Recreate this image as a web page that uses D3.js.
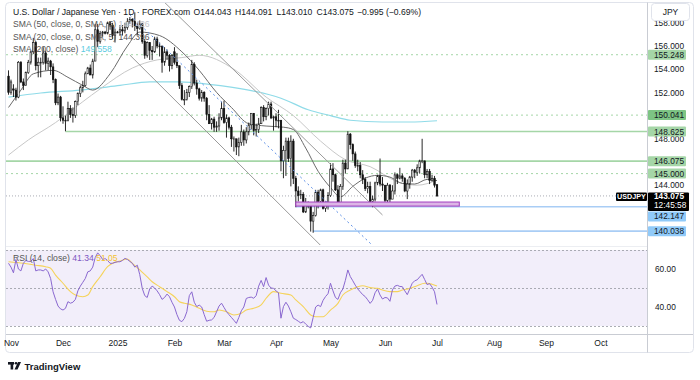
<!DOCTYPE html>
<html><head><meta charset="utf-8">
<script src="https://cdn.jsdelivr.net/npm/d3@7"></script>
<style>
html,body{margin:0;padding:0;background:#fff;}
svg{display:block;font-family:"Liberation Sans",Arial,sans-serif;}
</style></head><body>
<svg id="c" width="700" height="380"></svg>
<script>
// ---------------- DATA ----------------
const firstBarDate = "2024-10-31"; // consecutive weekday daily bars
const ohlc = [
[153.4,153.9,151.8,152.0],[152.0,153.1,151.8,152.9],[152.3,152.7,151.6,152.2],[152.2,152.4,151.3,151.6],[151.6,154.7,151.5,154.6],
[154.6,154.7,152.8,152.9],[152.9,153.2,152.2,152.6],[152.6,153.8,152.6,153.7],[153.7,154.8,153.6,154.6],[154.6,155.6,154.4,155.5],
[155.5,156.7,155.3,156.3],[156.3,156.4,153.9,154.3],[154.3,155.0,153.3,154.6],[154.6,155.0,153.3,154.6],[154.6,155.9,154.4,155.4],
[155.4,155.6,153.9,154.5],[154.5,155.0,153.9,154.7],[154.7,154.8,153.5,154.2],[154.2,154.5,152.8,153.1],[153.1,153.2,150.9,151.1],
[151.1,151.9,150.9,151.6],[151.6,151.7,149.5,149.8],
[149.8,150.8,149.3,149.6],[149.6,150.0,148.65,149.6],[149.6,151.2,149.5,150.6],[150.6,150.9,149.8,150.1],[150.1,150.7,149.4,150.0],
[150.0,151.3,149.8,151.2],[151.2,152.0,150.9,151.9],[151.9,152.6,151.6,152.4],[152.4,153.0,152.0,152.6],[152.6,153.8,152.5,153.6],
[153.6,154.2,153.6,154.1],[154.1,154.4,153.5,153.5],[153.5,154.9,153.2,154.7],[154.7,157.9,154.7,157.4],[157.4,157.9,155.9,156.4],
[156.4,157.3,156.2,157.1],[157.1,157.3,156.8,157.2],[157.2,157.3,157.0,157.1],[157.1,158.1,157.0,158.0],[158.0,158.1,157.4,157.8],
[157.8,158.0,156.6,156.9],[156.9,157.5,156.3,157.2],
[157.2,157.3,157.1,157.2],[157.2,157.8,156.9,157.4],[157.4,157.8,156.9,157.3],
[157.3,158.0,157.1,157.6],[157.6,158.4,157.4,158.1],[158.1,158.5,157.9,158.3],[158.3,158.4,157.6,158.1],[158.1,158.9,157.3,157.7],
[157.7,158.0,156.9,157.5],[157.5,158.2,157.4,157.9],[157.9,158.0,156.2,156.4],[156.4,156.6,154.9,155.2],[155.2,156.4,155.0,156.3],
[156.3,156.3,154.8,155.6],[155.6,156.0,154.8,155.5],[155.5,156.8,155.4,156.6],[156.6,156.8,155.8,156.0],[156.0,156.3,155.1,156.0],
[156.0,156.0,153.7,154.6],[154.6,155.9,154.3,155.5],[155.5,155.7,154.8,155.2],[155.2,155.3,153.8,154.3],[154.3,155.3,154.0,155.2],
[155.5,155.9,154.4,154.6],[154.6,155.4,154.1,154.3],[154.3,154.3,152.3,152.6],[152.6,152.8,151.3,151.4],[151.4,152.2,150.9,151.4],
[151.4,152.3,151.3,152.0],[152.0,152.6,151.6,152.5],[152.5,154.8,152.3,154.4],[154.4,154.6,152.6,152.8],[152.8,153.1,151.8,152.3],
[152.3,152.4,151.3,151.5],[151.5,152.2,151.2,152.0],[152.0,152.1,151.2,151.5],[151.5,151.6,149.6,150.1],[150.1,150.9,149.3,149.3],
[149.3,149.8,148.8,149.7],[149.7,149.9,148.6,149.0],[149.0,149.5,148.6,149.1],[149.1,150.2,148.7,149.8],[149.8,151.2,149.6,150.6],
[150.6,151.3,149.3,149.4],[149.4,150.1,148.1,149.8],[149.8,149.9,148.8,149.0],[149.0,149.2,147.3,148.0],[148.0,148.2,146.9,148.0],
[148.0,148.0,146.6,147.3],[147.3,148.1,146.5,147.7],[147.7,149.2,147.4,148.6],[148.6,148.8,147.4,147.9],[147.9,149.0,147.6,148.6],
[148.6,149.4,148.3,149.2],[149.2,150.2,148.8,150.2],[150.2,150.2,148.3,148.7],[148.7,149.3,148.2,148.8],[148.8,149.8,148.5,149.3],
[149.3,150.8,149.3,150.7],[150.7,150.9,149.5,149.9],[149.9,150.7,149.6,150.6],[150.6,151.2,150.0,151.0],[151.0,151.2,149.7,149.8],
[149.8,150.0,148.7,149.9],[149.9,150.2,149.0,149.6],[149.6,150.5,148.9,149.6],[149.6,149.6,145.2,146.1],[146.1,147.4,144.6,147.0],
[147.0,148.1,144.8,147.8],[147.8,148.1,146.0,146.3],[146.3,148.3,143.9,147.8],[147.8,148.0,144.1,144.6],[144.6,144.8,142.1,143.5],
[143.5,143.9,142.6,143.1],[143.1,143.6,142.8,143.2],[143.2,143.4,141.6,141.7],[141.7,142.9,141.6,142.4],[142.4,142.6,142.0,142.2],
[142.2,142.2,140.0,140.9],[140.9,141.7,139.9,141.4],[141.4,143.6,141.3,143.4],[143.4,143.6,142.0,142.6],[142.6,143.7,142.4,143.6],
[143.6,143.7,141.9,142.0],[142.0,142.6,141.7,142.3],[142.3,143.4,141.9,143.1],[143.1,145.9,143.0,145.4],[145.4,145.9,144.3,144.9],
[144.9,145.0,143.5,143.6],[143.6,144.0,142.4,142.5],[142.5,144.1,142.4,143.9],[143.9,146.2,143.6,145.9],[145.9,146.2,145.0,145.4],
[145.4,148.65,145.4,148.4],[148.4,148.5,147.1,147.5],[147.5,147.6,146.1,146.7],[146.7,146.9,145.5,145.7],[145.7,146.2,145.2,145.7],
[145.7,146.0,144.6,144.9],[144.9,145.3,144.1,144.5],[144.5,144.7,143.5,143.7],[143.7,144.3,143.3,143.9],[143.9,144.3,142.4,142.6],
[142.6,143.1,142.1,142.8],[142.8,144.3,142.6,144.2],[144.2,144.9,144.0,144.8],[144.8,146.3,143.9,144.1],[144.1,144.7,143.5,144.0],
[144.0,144.0,142.5,142.7],[142.7,144.2,142.4,144.0],[144.0,144.1,142.5,142.8],[142.8,144.0,142.8,143.5],[143.5,145.1,143.2,144.9],
[144.9,145.0,144.1,144.6],[144.6,145.5,144.5,144.8],[144.8,145.0,144.3,144.6],[144.6,144.7,143.4,143.5],[143.5,144.5,142.8,144.1],
[144.1,144.8,143.7,144.7],[144.7,145.4,144.3,145.3],[145.3,145.4,144.6,145.1],[145.1,145.8,144.8,145.5],[145.5,146.2,145.0,146.1],
[146.1,148.0,145.9,146.1],[146.1,146.1,144.6,144.9],[144.9,145.4,144.6,145.2],[145.2,145.4,144.1,144.4],[144.4,144.9,144.3,144.6],
[144.6,144.8,143.8,144.0],[144.043,144.091,143.010,143.075]
];
const rsiValues = [
63,61,58,65,60,59,63,64.5,64,64,65.5,59,59.5,59.5,59,60,58.5,55,48,44,40.5,39,
38.4,39.3,42.8,42,42.5,44,48.5,51,53,55,58.5,59,61,66,68.5,67,65,65.5,64.5,63,63,63.5,
63.8,63.8,64.5,65.6,65,64,63,61,62,57,49.8,46,45,49.5,51,50,48.5,46.5,44,45,46.8,45.4,42.5,
40,36,33,32.3,34,37.5,46,48,42.5,40.2,41,40,36,32.5,33,33.2,34.5,37.5,40.5,42,
39.8,37.6,36,34.5,33,31.4,34.5,38,40,44.5,45,45.2,44.6,46,51,54,50.7,55.5,51.5,50,49.8,
48.5,47.5,34.1,40.2,42.5,40.5,37.5,34.1,33.4,32.5,31.6,32.3,31,29.8,29,34.5,40,41,40.2,43.5,45.5,47,
52.5,48.5,45,44,47.5,49.5,54,59.5,56,53.8,51.5,49.5,48,46.5,45.5,43.8,41.9,43.5,47.5,49.5,46.3,44.2,
45,44.8,43,49,51,51.4,50.8,50.7,48.5,46.5,49.5,52.5,53.8,54.3,55.8,57.2,54.5,51.8,52.3,50.5,48,41.34
];
const rsiMA = [["2024-10-31",63.8],["2024-11-08",63],["2024-11-15",62],["2024-11-21",61.2],["2024-11-25",60.4],["2024-11-27",56.8],
["2024-12-02",52.5],["2024-12-05",48.1],["2024-12-09",46.3],["2024-12-12",45.4],["2024-12-16",46.3],["2024-12-18",50.7],["2024-12-23",55.9],
["2024-12-26",61.2],["2024-12-30",63],["2025-01-02",64.2],["2025-01-07",65.3],["2025-01-09",63],["2025-01-14",59.5],["2025-01-17",55.9],
["2025-01-21",53.3],["2025-01-24",50.7],["2025-01-29",48.1],["2025-02-03",45.4],["2025-02-05",42.8],["2025-02-07",42],["2025-02-12",41.1],
["2025-02-17",39.3],["2025-02-20",37.8],["2025-02-25",37.5],["2025-02-27",38.4],["2025-03-04",37.5],["2025-03-07",35.8],["2025-03-12",36.7],
["2025-03-14",38.4],["2025-03-19",39.3],["2025-03-24",41.1],["2025-03-26",44.6],["2025-03-31",48.1],["2025-04-03",47.2],["2025-04-09",46.3],
["2025-04-11",43.7],["2025-04-16",40.2],["2025-04-21",35.8],["2025-04-23",34.9],["2025-04-28",34.9],["2025-05-01",38.4],["2025-05-06",41.9],
["2025-05-08",46.3],["2025-05-13",48.9],["2025-05-16",50.7],["2025-05-20",51.2],["2025-05-23",50.2],["2025-05-28",49.8],["2025-05-30",48.9],
["2025-06-04",48.1],["2025-06-09",48.1],["2025-06-11",48.9],["2025-06-16",49.8],["2025-06-19",51.2],["2025-06-24",52.5],["2025-06-25",52.5],
["2025-06-27",52],["2025-07-01",51.05]];
const sma20 = [["2024-10-31",150.7],["2024-11-07",152.2],["2024-11-14",153.6],["2024-11-26",153.9],["2024-12-04",153.3],["2024-12-12",152.6],
["2024-12-18",152.2],["2024-12-27",153.6],["2025-01-07",156.0],["2025-01-14",157.2],["2025-01-24",156.9],["2025-02-06",155.5],["2025-02-17",153.9],
["2025-02-26",152.0],["2025-03-06",150.7],["2025-03-17",149.3],["2025-03-26",149.1],["2025-04-04",149.0],["2025-04-10",148.8],["2025-04-17",147.2],
["2025-04-24",145.2],["2025-05-01",143.8],["2025-05-07",143.0],["2025-05-14",143.9],["2025-05-21",144.6],["2025-05-28",144.85],["2025-06-04",144.7],
["2025-06-11",144.15],["2025-06-18",144.1],["2025-06-25",144.5],["2025-07-01",144.396]];
const sma50 = [["2024-10-31",146.6],["2024-11-12",147.9],["2024-11-27",149.4],["2024-12-12",151.2],["2024-12-23",152.3],["2025-01-09",154.1],
["2025-01-23",154.8],["2025-02-06",155.0],["2025-02-17",155.2],["2025-03-07",154.0],["2025-03-26",151.6],["2025-04-10",150.0],["2025-04-25",147.8],
["2025-05-09",146.2],["2025-05-23",145.6],["2025-06-09",144.3],["2025-06-19",144.0],["2025-07-01",144.426]];
const sma200 = [["2024-10-31",151.6],["2024-11-19",151.95],["2024-12-11",152.2],["2025-01-02",152.6],["2025-01-20",152.9],["2025-02-05",152.9],
["2025-02-21",152.7],["2025-03-17",152.2],["2025-04-03",151.5],["2025-04-18",150.5],["2025-05-01",150.0],["2025-05-13",149.6],["2025-05-30",149.45],
["2025-06-16",149.45],["2025-07-01",149.558]];
const priceTicks = [144,148,152,154,156,158];
const rsiTicks = [40,60];
const rsiBands = [70,50,30];
const monthDates = ["2024-11-01","2024-12-02","2025-01-01","2025-02-03","2025-03-03","2025-04-01","2025-05-01","2025-06-02","2025-07-01","2025-08-01","2025-09-01","2025-10-01"];
const monthLabels = ["Nov","Dec","2025","Feb","Mar","Apr","May","Jun","Jul","Aug","Sep","Oct"];
const dottedGreenLevels = [155.248,150.041,145.000];
const solidGreenLevels = [[148.625,"2024-12-03"],[146.075,"2024-10-28"]];
const blueLevels = [[142.147,"2025-04-11"],[140.038,"2025-04-22"]];
const zone = {top:142.55,bottom:142.2,from:"2025-04-11",to:"2025-07-14"};
const channelUpper = [["2025-01-27",159.97],["2025-05-30",141.43]];
const channelLower = [["2025-01-08",155.22],["2025-04-28",138.6]];
const channelMid = [["2025-01-08",158.67],["2025-05-27",138.6]];
const lastPrice = 143.075, countdown = "12:45:58";

// ---------------- HELPERS ----------------
const REF = Date.UTC(2024,11,2); // Monday
function bi(s){const [Y,M,D]=s.split("-").map(Number);const days=Math.round((Date.UTC(Y,M-1,D)-REF)/864e5);const w=Math.floor(days/7);const r=days-w*7;return w*5+Math.min(r,5);}
const svg = d3.select("#c");
const PL=6, PR=647, PT=3, PB=245;
const x = d3.scaleLinear().domain([0,151]).range([63,437]);
const y = d3.scaleLinear().domain([144,156]).range([185.2,46]);
const yr = d3.scaleLinear().domain([30,70]).range([326,250]);
const step = x(1)-x(0);
const first = bi(firstBarDate);
const bars = ohlc.map((r,i)=>({i:first+i,o:r[0],h:r[1],l:r[2],c:r[3]}));

const defs = svg.append("defs");
defs.append("clipPath").attr("id","pc").append("rect").attr("x",PL).attr("y",PT).attr("width",PR-PL).attr("height",PB-PT);
defs.append("clipPath").attr("id","rc").append("rect").attr("x",PL).attr("y",247).attr("width",PR-PL).attr("height",86);

// frame
svg.append("rect").attr("x",5.5).attr("y",2.5).attr("width",688).attr("height",350).attr("rx",4)
  .attr("fill","#fff").attr("stroke","#e0e3eb");

// ---------------- RSI PANE ----------------
const rp = svg.append("g").attr("clip-path","url(#rc)");
rp.append("rect").attr("x",PL).attr("y",yr(70)).attr("width",PR-PL).attr("height",yr(30)-yr(70)).attr("fill","#f2eefa");
rp.selectAll("line.band").data(rsiBands).join("line").attr("x1",PL).attr("x2",PR)
  .attr("y1",d=>yr(d)+0.5).attr("y2",d=>yr(d)+0.5).attr("stroke","#9598a1").attr("stroke-dasharray","2,2").attr("stroke-width",0.8);
rp.append("path").datum(rsiMA).attr("fill","none").attr("stroke","#f5d35a").attr("stroke-width",1.1)
  .attr("d",d3.line().x(d=>x(bi(d[0]))).y(d=>yr(d[1])).curve(d3.curveMonotoneX));
rp.append("path").datum(rsiValues).attr("fill","none").attr("stroke","#8a68d0").attr("stroke-width",1)
  .attr("d",d3.line().x((d,i)=>x(first+i)).y(d=>yr(d)));

// ---------------- PRICE PANE ----------------
const pp = svg.append("g").attr("clip-path","url(#pc)");
pp.selectAll("line.dg").data(dottedGreenLevels).join("line").attr("x1",PL).attr("x2",PR)
  .attr("y1",d=>y(d)).attr("y2",d=>y(d)).attr("stroke","#a5d6a7").attr("stroke-width",1).attr("stroke-dasharray","2,3");
pp.selectAll("line.sg").data(solidGreenLevels).join("line").attr("x1",d=>x(bi(d[1]))).attr("x2",PR)
  .attr("y1",d=>y(d[0])).attr("y2",d=>y(d[0])).attr("stroke","#a5d6a7").attr("stroke-width",1.6);
pp.selectAll("line.bl").data(blueLevels).join("line").attr("x1",d=>x(bi(d[1]))).attr("x2",PR)
  .attr("y1",d=>y(d[0])).attr("y2",d=>y(d[0])).attr("stroke","#a9cdf5").attr("stroke-width",1.6);
// current price line
pp.append("line").attr("x1",PL).attr("x2",PR).attr("y1",y(lastPrice)).attr("y2",y(lastPrice))
  .attr("stroke","#9598a1").attr("stroke-width",0.8).attr("stroke-dasharray","1,2");

const ln = d3.line().x(d=>x(bi(d[0]))).y(d=>y(d[1])).curve(d3.curveMonotoneX);
pp.append("path").datum(sma200).attr("fill","none").attr("stroke","#8fdbe8").attr("stroke-width",1.2).attr("d",ln);
pp.append("path").datum(sma50).attr("fill","none").attr("stroke","#c8c8c8").attr("stroke-width",1).attr("d",ln);
pp.append("path").datum(sma20).attr("fill","none").attr("stroke","#6b6b6b").attr("stroke-width",1).attr("d",ln);

// candles
const cg = pp.append("g");
cg.selectAll("line.w").data(bars).join("line").attr("x1",d=>x(d.i)).attr("x2",d=>x(d.i))
  .attr("y1",d=>y(d.h)).attr("y2",d=>y(d.l)).attr("stroke","#111").attr("stroke-width",0.9);
const bw = step*0.62;
cg.selectAll("rect.b").data(bars).join("rect")
  .attr("x",d=>x(d.i)-bw/2).attr("width",bw)
  .attr("y",d=>y(Math.max(d.o,d.c))).attr("height",d=>Math.max(0.8,Math.abs(y(d.o)-y(d.c))))
  .attr("fill",d=>d.c>=d.o?"#fff":"#111").attr("stroke","#111").attr("stroke-width",0.6);

// drawings
const tl = d3.line().x(d=>x(bi(d[0]))).y(d=>y(d[1]));
pp.append("path").datum(channelUpper).attr("fill","none").attr("stroke","#9a9a9a").attr("stroke-width",1).attr("d",tl);
pp.append("path").datum(channelLower).attr("fill","none").attr("stroke","#9a9a9a").attr("stroke-width",1).attr("d",tl);
pp.append("path").datum(channelMid).attr("fill","none").attr("stroke","#5b8ee6").attr("stroke-width",1).attr("stroke-dasharray","2,3").attr("d",tl);
pp.append("rect").attr("x",x(bi(zone.from))).attr("width",x(bi(zone.to))-x(bi(zone.from)))
  .attr("y",y(zone.top)).attr("height",y(zone.bottom)-y(zone.top))
  .attr("fill","#dcb6e6").attr("stroke","#a43fc0").attr("stroke-width",1);

// ---------------- AXES ----------------
svg.append("line").attr("x1",PR+0.5).attr("x2",PR+0.5).attr("y1",2.5).attr("y2",352.5).attr("stroke","#c9ccd3");
svg.append("line").attr("x1",PL).attr("x2",693).attr("y1",334.5).attr("y2",334.5).attr("stroke","#c9ccd3");
svg.append("line").attr("x1",PL).attr("x2",PR).attr("y1",246.5).attr("y2",246.5).attr("stroke","#eceef2");

const xa = svg.append("g").attr("transform","translate(0,338)")
  .call(d3.axisBottom(x).tickValues(monthDates.map(bi)).tickFormat((d,i)=>monthLabels[i]).tickSize(0).tickPadding(2));
xa.select(".domain").remove();
xa.selectAll("text").attr("font-size",8.5).attr("fill","#131722").attr("font-family","Liberation Sans, Arial, sans-serif");

const ya = svg.append("g").attr("transform",`translate(${PR},0)`)
  .call(d3.axisRight(y).tickValues(priceTicks).tickFormat(d=>d.toFixed(3)).tickSize(0).tickPadding(7));
ya.select(".domain").remove();
ya.selectAll("text").attr("font-size",8.3).attr("fill","#131722").attr("font-family","Liberation Sans, Arial, sans-serif");

const ra = svg.append("g").attr("transform",`translate(${PR},0)`)
  .call(d3.axisRight(yr).tickValues(rsiTicks).tickFormat(d=>d.toFixed(2)).tickSize(0).tickPadding(8));
ra.select(".domain").remove();
ra.selectAll("text").attr("font-size",8.3).attr("fill","#131722").attr("font-family","Liberation Sans, Arial, sans-serif");

// price labels
function plabel(cy,txt,bg,fg){
  svg.append("rect").attr("x",PR+1).attr("y",cy-5).attr("width",38).attr("height",10).attr("rx",1).attr("fill",bg);
  svg.append("text").attr("x",PR+7).attr("y",cy+3).attr("font-size",8.3).attr("fill",fg).text(txt);
}
plabel(y(155.248),"155.248","#a5d6a7","#131722");
plabel(y(150.041),"150.041","#7dc484","#131722");
plabel(y(148.625),"148.625","#a5d6a7","#131722");
plabel(y(146.075),"146.075","#a5d6a7","#131722");
plabel(y(145.000),"145.000","#a5d6a7","#131722");
const cy = y(lastPrice);
svg.append("rect").attr("x",PR+1).attr("y",cy-3.5).attr("width",41).attr("height",18.5).attr("rx",1).attr("fill","#000");
svg.append("text").attr("x",PR+7).attr("y",cy+3).attr("font-size",8.3).attr("font-weight","bold").attr("fill","#fff").text(lastPrice.toFixed(3));
svg.append("text").attr("x",PR+7).attr("y",cy+12).attr("font-size",8.3).attr("fill","#fff").text(countdown);
svg.append("rect").attr("x",616).attr("y",cy-3.5).attr("width",31).attr("height",8.5).attr("rx",1).attr("fill","#000");
svg.append("text").attr("x",631.5).attr("y",cy+3).attr("text-anchor","middle").attr("font-size",7.2).attr("font-weight","bold").attr("fill","#fff").text("USDJPY");
let lastBottom = cy + 15;
blueLevels.forEach(([p])=>{
  let c = y(p); if (c-5 < lastBottom+0.5) c = lastBottom+5.5; lastBottom = c+5;
  plabel(c,p.toFixed(3),"#90caf9","#131722");
});

svg.append("rect").attr("x",651.5).attr("y",3.5).attr("width",38).attr("height",17).attr("rx",3).attr("fill","#fff").attr("stroke","#e0e3eb");
svg.append("text").attr("x",670.5).attr("y",15).attr("text-anchor","middle").attr("font-size",8.5).attr("fill","#131722").text("JPY");

// ---------------- LEGENDS ----------------
const lg = svg.append("g").attr("font-size",8.6);
lg.append("text").attr("x",13).attr("y",14.5).attr("fill","#131722").text("U.S. Dollar / Japanese Yen · 1D · FOREX.com");
const ohlcTxt = [["O","144.043",193.5],["H","144.091",235],["L","143.010",276.5],["C","143.075",316.5]];
ohlcTxt.forEach(([k,v,px])=>{
  const t = lg.append("text").attr("x",px).attr("y",14.5).attr("fill","#131722");
  t.append("tspan").text(k); t.append("tspan").text(v);
});
lg.append("text").attr("x",357).attr("y",14.5).attr("fill","#131722").text("−0.995 (−0.69%)");
function leg(yy,label,val,vc){
  const t = lg.append("text").attr("x",13).attr("y",yy).attr("fill","#555");
  t.append("tspan").text(label+"  ");
  t.append("tspan").attr("fill",vc).text(val);
}
leg(27,"SMA (50, close, 0, SMA, 5)","144.426","#c0c3ca");
leg(39.5,"SMA (20, close, 0, SMA, 5)","144.396","#555");
leg(52,"SMA (200, close)","149.558","#5ccbdf");
const rl = lg.append("text").attr("x",13).attr("y",261).attr("fill","#555");
rl.append("tspan").text("RSI (14, close)  ");
rl.append("tspan").attr("fill","#7e57c2").text("41.34 ");
rl.append("tspan").attr("fill","#f2c230").text(" 51.05");

// ---------------- FOOTER ----------------
const fg = svg.append("g").attr("fill","#131722");
fg.append("rect").attr("x",8).attr("y",362).attr("width",6).attr("height",2.6);
fg.append("rect").attr("x",10.6).attr("y",362).attr("width",2.6).attr("height",7.5);
fg.append("circle").attr("cx",16).attr("cy",363.3).attr("r",1.3);
fg.append("path").attr("d","M18,362 L21,362 L17.5,369.5 L14.5,369.5 Z");
fg.append("text").attr("x",24.5).attr("y",369.5).attr("font-size",9.5).attr("font-weight","600").text("TradingView");
</script>
</body></html>
